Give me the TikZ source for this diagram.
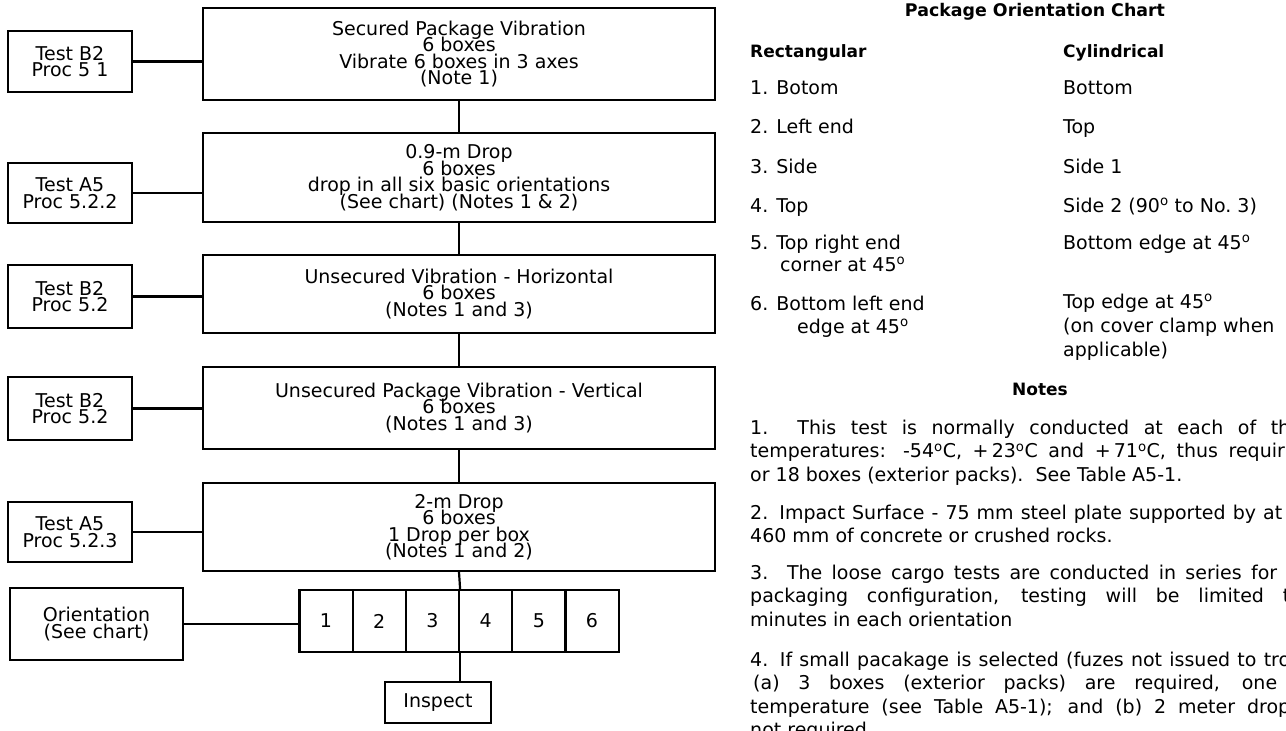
\documentclass[tikz,border=0pt]{standalone}
\usepackage{fontspec}
\setmainfont{DejaVu Sans}
\usetikzlibrary{positioning}

\newcommand{\flowfont}{\fontsize{19}{16.5}\selectfont\lineskiplimit=-\maxdimen}
\newcommand{\chartfont}{\fontsize{19}{19}\selectfont}
\newcommand{\headfont}{\fontsize{17.4}{17.4}\selectfont\bfseries}
\newcommand{\degsup}{\textsuperscript{o}}

\tikzset{
    % Flow chart boxes
    stage/.style={draw, line width=2.2pt, minimum width=512pt, align=center, inner sep=2pt, font=\flowfont},
    testbox/.style={draw, line width=2.2pt, minimum width=124pt, align=center, inner sep=2pt, font=\flowfont},
    cell/.style={draw, line width=2.2pt, minimum width=53.2pt, minimum height=62pt, font=\flowfont},
    link/.style={line width=2.2pt},
    % Chart and notes text
    chart/.style={anchor=base west, inner sep=0pt, font=\chartfont},
    chart head/.style={anchor=base, inner sep=0pt, font=\headfont},
}

\begin{document}
\begin{tikzpicture}[x=1pt, y=-1pt]
    \useasboundingbox (0,0) rectangle (1286,731);

    % Test stages
    \node[stage, minimum height=92pt] (b1) at (459,54) {Secured Package Vibration\\6 boxes\\Vibrate 6 boxes in 3 axes\\(Note 1)};
    \node[stage, minimum height=89pt] (b2) at (459,177.5) {0.9-m Drop\\6 boxes\\drop in all six basic orientations\\(See chart) (Notes 1 \& 2)};
    \node[stage, minimum height=78pt] (b3) at (459,294) {Unsecured Vibration - Horizontal\\6 boxes\\(Notes 1 and 3)};
    \node[stage, minimum height=82pt] (b4) at (459,408) {Unsecured Package Vibration - Vertical\\6 boxes\\(Notes 1 and 3)};
    \node[stage, minimum height=88pt] (b5) at (459,527) {2-m Drop\\6 boxes\\1 Drop per box\\(Notes 1 and 2)};

    % Test references
    \node[testbox, minimum height=61pt] (l1) at (70,61.5) {Test B2\\Proc 5 1};
    \node[testbox, minimum height=60pt] (l2) at (70,193) {Test A5\\Proc 5.2.2};
    \node[testbox, minimum height=63pt] (l3) at (70,296.5) {Test B2\\Proc 5.2};
    \node[testbox, minimum height=63pt] (l4) at (70,408.5) {Test B2\\Proc 5.2};
    \node[testbox, minimum height=60pt] (l5) at (70,532) {Test A5\\Proc 5.2.3};
    \node[testbox, minimum width=173pt, minimum height=72pt] (orient) at (96.5,624) {Orientation\\(See chart)};

    % Orientation cells
    \foreach \i in {1,...,6}
        \node[cell] (c\i) at ({299.4+53.2*(\i-0.5)},621) {\i};

    \node[testbox, minimum width=106pt, minimum height=41pt] (insp) at (438,702.5) {Inspect};

    % Connectors
    \draw[link] (b1.south) -- (b2.north);
    \draw[link] (b2.south) -- (b3.north);
    \draw[link] (b3.south) -- (b4.north);
    \draw[link] (b4.south) -- (b5.north);
    \draw[link] (b5.south) -- (c3.north east);
    \draw[link] (c3.south east) -- (c3.south east |- insp.north);
    \foreach \n/\m in {l1/b1, l2/b2, l3/b3, l4/b4, l5/b5}
        \draw[link] (\n) -- (\n -| \m.west);
    \draw[link] (orient) -- (orient -| c1.west);

    % Package orientation chart
    \node[chart head] (title) at (1035,16) {Package Orientation Chart};
    \node[chart, font=\fontsize{17}{17}\selectfont\bfseries] (rect) at (750,57) {Rectangular};
    \node[chart, font=\fontsize{17}{17}\selectfont\bfseries] (cyl) at (1063,57) {Cylindrical};
    \node[chart] (r1) at (750,94) {1. Botom};
    \node[chart] (r2) at (750,133) {2. Left end};
    \node[chart] (r3) at (750,173) {3. Side};
    \node[chart] (r4) at (750,212) {4. Top};
    \node[chart] (r5) at (750,249) {5. Top right end};
    \node[chart] (r5b) at (780,271) {corner at 45\degsup};
    \node[chart] (r6) at (750,310) {6. Bottom left end};
    \node[chart] (r6b) at (797,333) {edge at 45\degsup};
    \node[chart] (y1) at (1063,94) {Bottom};
    \node[chart] (y2) at (1063,133) {Top};
    \node[chart] (y3) at (1063,173) {Side 1};
    \node[chart] (y4) at (1063,212) {Side 2 (90\degsup\ to No.\ 3)};
    \node[chart] (y5) at (1063,249) {Bottom edge at 45\degsup};
    \node[chart] (y6) at (1063,308) {Top edge at 45\degsup};
    \node[chart] (y6b) at (1063,332) {(on cover clamp when};
    \node[chart] (y6c) at (1063,356) {applicable)};

    % Notes
    \node[chart head, font=\fontsize{17}{17}\selectfont\bfseries] (notes) at (1040,395) {Notes};
    \node[chart] (n1a) at (750,434) {\makebox[540pt][s]{1.\ \ This test is normally conducted at each of th}};
    \node[chart] (n1b) at (750,457.5) {\makebox[540pt][s]{temperatures: -54\degsup C, +\,23\degsup C and +\,71\degsup C, thus requiri}};
    \node[chart] (n1c) at (750,481) {or 18 boxes (exterior packs).\ \ See Table A5-1.};
    \node[chart] (n2a) at (750,519) {\makebox[532pt][s]{2. Impact Surface - 75 mm steel plate supported by at}};
    \node[chart] (n2b) at (750,542) {460 mm of concrete or crushed rocks.};
    \node[chart] (n3a) at (750,579) {\makebox[527pt][s]{3.\ \ The loose cargo tests are conducted in series for}};
    \node[chart] (n3b) at (750,602) {\makebox[540pt][s]{packaging configuration, testing will be limited t}};
    \node[chart] (n3c) at (750,626) {minutes in each orientation};
    \node[chart] (n4a) at (750,666) {\makebox[540pt][s]{4. If small pacakage is selected (fuzes not issued to tro}};
    \node[chart] (n4b) at (753,689) {\makebox[524pt][s]{(a) 3 boxes (exterior packs) are required, one}};
    \node[chart] (n4c) at (750,713) {\makebox[540pt][s]{temperature (see Table A5-1); and (b) 2 meter drop}};
    \node[chart] (n4d) at (750,736) {not required.};
\end{tikzpicture}
\end{document}
